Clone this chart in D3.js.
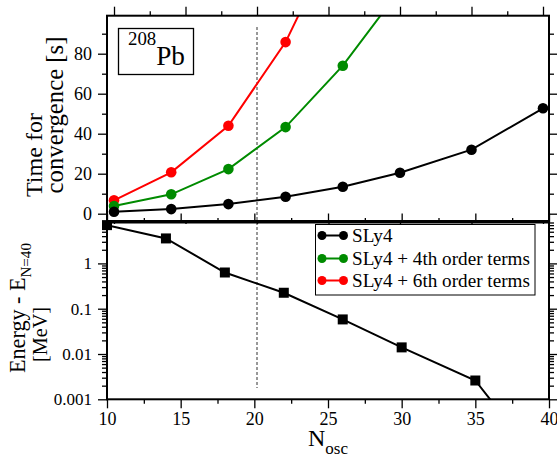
<!DOCTYPE html>
<html><head><meta charset="utf-8">
<script src="https://cdn.jsdelivr.net/npm/d3@7"></script>
<style>body{margin:0;background:#fff}svg{display:block}</style>
</head><body><svg id="c" width="557" height="459"></svg>
<script>
// ---- data ----
const noscSLy4 = [10, 14, 18, 22, 26, 30, 35, 40];
const timeSLy4 = [1.0, 2.3, 4.8, 8.5, 13.5, 20.5, 32, 52.7];
const nosc4th = [10, 14, 18, 22, 26, 30];
const time4th = [3.8, 9.7, 22.3, 43.3, 74, 112];
const nosc6th = [10, 14, 18, 22, 26];
const time6th = [6.7, 20.7, 44, 85.8, 145];
const noscEnergy = [10, 14, 18, 22, 26, 30, 35, 40];
const energyDiff = [7.0, 3.56, 0.63, 0.225, 0.058, 0.014, 0.0026, 0.000022];
const xTickVals = [10, 15, 20, 25, 30, 35, 40];
const xMinorVals = [12.5, 17.5, 22.5, 27.5, 32.5, 37.5];
const yTopTicks = [0, 20, 40, 60, 80];
const yTopMinor = [10, 30, 50, 70, 90];
const yLogTicks = [1, 0.1, 0.01, 0.001];
const yLogLabels = ["1", "0.1", "0.01", "0.001"];
const legendLabels = ["SLy4", "SLy4 + 4th order terms", "SLy4 + 6th order terms"];
const colors = ["#000000", "#008b00", "#ff0000"];
const markLine = 20;

const FONT = "'Liberation Serif','Times New Roman',serif";
const svg = d3.select("#c").style("font-family", FONT);
const L = 107, R = 549;
const T1 = 15.7, B1 = 221, T2 = 222.5, B2 = 399.3;

const xTop = d3.scaleLinear().domain([9.51, 40.42]).range([L, R]);
const xBot = d3.scaleLinear().domain([10, 40]).range([L, R]);
const yTop = d3.scaleLinear().domain([-3.65, 99]).range([B1, T1]);
const yBot = d3.scaleLog().domain([0.001, 8]).range([B2, T2]);

const defs = svg.append("defs");
defs.append("clipPath").attr("id","clipTop").append("rect").attr("x",L).attr("y",T1).attr("width",R-L).attr("height",B1-T1);
defs.append("clipPath").attr("id","clipBot").append("rect").attr("x",L).attr("y",T2).attr("width",R-L).attr("height",B2-T2);

function addAxis(axis, tx, ty, labels, fs){
  const g = svg.append("g").attr("transform",`translate(${tx},${ty})`).call(axis);
  g.attr("font-family", null).attr("font-size", null);
  g.select(".domain").remove();
  g.selectAll(".tick line").attr("stroke","#000").attr("stroke-width",1.3);
  if(labels) g.selectAll("text").style("font-family", FONT).style("font-size", fs+"px").attr("fill","#000");
  else g.selectAll("text").remove();
  return g;
}

// ---- top panel axes ----
addAxis(d3.axisLeft(yTop).tickValues(yTopTicks).tickSize(9).tickPadding(6).tickFormat(d3.format("d")), L, 0, true, 18);
addAxis(d3.axisLeft(yTop).tickValues(yTopMinor).tickSize(5), L, 0, false);
addAxis(d3.axisRight(yTop).tickValues(yTopTicks).tickSize(9), R, 0, false);
addAxis(d3.axisRight(yTop).tickValues(yTopMinor).tickSize(5), R, 0, false);
addAxis(d3.axisTop(xTop).tickValues(xTickVals).tickSize(9), 0, T1, false);
addAxis(d3.axisTop(xTop).tickValues(xMinorVals).tickSize(4.5), 0, T1, false);
addAxis(d3.axisBottom(xTop).tickValues(xTickVals).tickSize(3), 0, B1, false);

// ---- bottom panel axes ----
const logMinor = [];
[0.001, 0.01, 0.1, 1].forEach(d => { for(let k=2;k<=9;k++){ const v=d*k; if(v<=8) logMinor.push(v);} });
addAxis(d3.axisLeft(yBot).tickValues(yLogTicks).tickSize(9).tickPadding(6).tickFormat((d,i)=>yLogLabels[i]), L, 0, true, 17);
addAxis(d3.axisLeft(yBot).tickValues(logMinor).tickSize(5), L, 0, false);
addAxis(d3.axisRight(yBot).tickValues(yLogTicks).tickSize(9), R, 0, false);
addAxis(d3.axisRight(yBot).tickValues(logMinor).tickSize(5), R, 0, false);
addAxis(d3.axisBottom(xBot).tickValues(xTickVals).tickSize(9).tickPadding(4).tickFormat(d3.format("d")), 0, B2, true, 18);
addAxis(d3.axisBottom(xBot).tickValues(xMinorVals).tickSize(4.5), 0, B2, false);
addAxis(d3.axisTop(xBot).tickValues(xTickVals).tickSize(9), 0, T2, false);
addAxis(d3.axisTop(xBot).tickValues(xMinorVals).tickSize(4.5), 0, T2, false);

// ---- dashed marker line ----
svg.append("line").attr("x1",xTop(markLine)).attr("x2",xTop(markLine))
  .attr("y1",27).attr("y2",388).attr("stroke","#333").attr("stroke-width",1).attr("stroke-dasharray","3,2");

// ---- top panel series ----
const topSeries = [
  {x: noscSLy4, y: timeSLy4, c: colors[0]},
  {x: nosc4th, y: time4th, c: colors[1]},
  {x: nosc6th, y: time6th, c: colors[2]}
];
const gTop = svg.append("g").attr("clip-path","url(#clipTop)");
const lineTop = d3.line().x(d=>xTop(d[0])).y(d=>yTop(d[1]));
topSeries.slice().reverse().forEach(s=>{
  const pts = s.x.map((v,i)=>[v, s.y[i]]);
  gTop.append("path").attr("d", lineTop(pts)).attr("fill","none").attr("stroke",s.c).attr("stroke-width",2);
});
topSeries.slice().reverse().forEach(s=>{
  const pts = s.x.map((v,i)=>[v, s.y[i]]).filter(p=>p[1]<=99);
  svg.selectAll(null).data(pts).enter().append("circle")
    .attr("cx",d=>xTop(d[0])).attr("cy",d=>yTop(d[1])).attr("r",5.3).attr("fill",s.c);
});

// ---- bottom panel series ----
const ePts = noscEnergy.map((v,i)=>[v, energyDiff[i]]);
const gBot = svg.append("g").attr("clip-path","url(#clipBot)");
gBot.append("path").attr("d", d3.line().x(d=>xBot(d[0])).y(d=>yBot(d[1]))(ePts))
  .attr("fill","none").attr("stroke","#000").attr("stroke-width",2);
svg.selectAll(null).data(ePts.filter(p=>p[1]>=0.001)).enter().append("rect")
  .attr("x",d=>xBot(d[0])-5).attr("y",d=>yBot(d[1])-5).attr("width",10).attr("height",10).attr("fill","#000");

// ---- frames ----
svg.append("rect").attr("x",L).attr("y",T1).attr("width",R-L).attr("height",B1-T1).attr("fill","none").attr("stroke","#000").attr("stroke-width",2);
svg.append("rect").attr("x",L).attr("y",T2).attr("width",R-L).attr("height",B2-T2).attr("fill","none").attr("stroke","#000").attr("stroke-width",2);

// helper: scale font so text reaches a target width
function fit(sel, target){
  const node = sel.node();
  const w = node.getComputedTextLength();
  const fs = parseFloat(sel.attr("font-size"));
  const nf = fs * target / w;
  sel.attr("font-size", nf);
  sel.selectAll("tspan").each(function(){
    const t = d3.select(this);
    if(t.attr("font-size")) t.attr("font-size", parseFloat(t.attr("font-size"))*target/w);
    if(t.attr("dy")) t.attr("dy", parseFloat(t.attr("dy"))*target/w);
  });
  return nf;
}

// ---- 208Pb box ----
svg.append("rect").attr("x",118.5).attr("y",28.5).attr("width",75).attr("height",46).attr("fill","#fff").attr("stroke","#000").attr("stroke-width",1.3);
const pb = svg.append("text").attr("x",128).attr("y",65).attr("font-size",26);
pb.append("tspan").attr("font-size",18).attr("dy",-19).text("208");
pb.append("tspan").attr("dy",19).text("Pb");
fit(pb, 57);

// ---- legend ----
svg.append("rect").attr("x",315.5).attr("y",224.5).attr("width",219.5).attr("height",70.5).attr("fill","#fff").attr("stroke","#000").attr("stroke-width",1);
const legY = [235.5, 258.5, 280.5];
const probe = svg.append("text").attr("font-size",16).text(legendLabels[1]);
const legFs = fit(probe, 178);
probe.remove();
legendLabels.forEach((lab,i)=>{
  const g = svg.append("g");
  g.append("line").attr("x1",322).attr("x2",343.5).attr("y1",legY[i]).attr("y2",legY[i]).attr("stroke",colors[i]).attr("stroke-width",2);
  g.append("circle").attr("cx",322).attr("cy",legY[i]).attr("r",4.5).attr("fill",colors[i]);
  g.append("circle").attr("cx",343.5).attr("cy",legY[i]).attr("r",4.5).attr("fill",colors[i]);
  g.append("text").attr("x",352).attr("y",legY[i]+6).attr("font-size",legFs).text(lab);
});

// ---- axis titles ----
const t1 = svg.append("text").attr("transform","translate(42,155) rotate(-90)").attr("text-anchor","middle").attr("font-size",24).text("Time for");
fit(t1, 84);
const t2 = svg.append("text").attr("transform","translate(63,115) rotate(-90)").attr("text-anchor","middle").attr("font-size",24).text("convergence [s]");
fit(t2, 157);
const en = svg.append("text").attr("transform","translate(25,308) rotate(-90)").attr("text-anchor","middle").attr("font-size",22);
en.append("tspan").text("Energy - E");
en.append("tspan").attr("font-size",15).attr("dy",6).text("N=40");
fit(en, 130);
const mev = svg.append("text").attr("transform","translate(47,334.5) rotate(-90)").attr("text-anchor","middle").attr("font-size",21).text("[MeV]");
fit(mev, 55);
const nx = svg.append("text").attr("x",308).attr("y",445.5).attr("font-size",24);
nx.append("tspan").text("N");
nx.append("tspan").attr("font-size",17).attr("dy",9).text("osc");
fit(nx, 40);
</script></body></html>
